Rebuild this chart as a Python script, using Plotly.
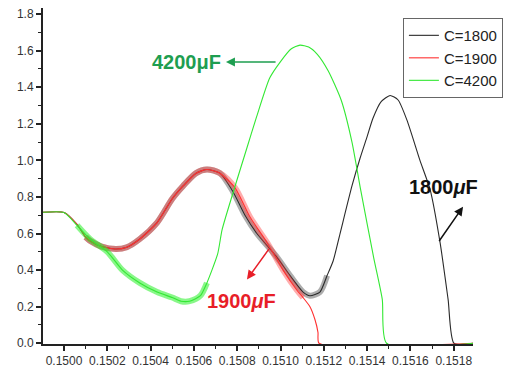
import plotly.graph_objects as go

# ---------------- data ----------------
black_x = [0.14989, 0.15000, 0.15006, 0.15010, 0.15012, 0.15017, 0.15024, 0.15029, 0.15035,
           0.15043, 0.15050, 0.15055, 0.15061, 0.15066, 0.15072, 0.15078, 0.150836, 0.150891,
           0.150984, 0.151044, 0.151104, 0.151136, 0.151182, 0.151215, 0.151243, 0.151275,
           0.151330, 0.151367, 0.151400, 0.151427, 0.151464, 0.151506, 0.151543, 0.151584,
           0.151644, 0.151691, 0.151737, 0.151774, 0.151801, 0.15189]
black_y = [0.715, 0.715, 0.65, 0.58, 0.56, 0.53, 0.515, 0.525, 0.57,
           0.66, 0.79, 0.86, 0.93, 0.95, 0.93, 0.83, 0.70, 0.60,
           0.47, 0.37, 0.28, 0.26, 0.28, 0.37, 0.45, 0.60,
           0.86, 1.01, 1.13, 1.23, 1.32, 1.355, 1.33, 1.22,
           1.00, 0.84, 0.55, 0.24, 0.0, 0.0]

red_x = [0.14989, 0.15000, 0.15006, 0.15010, 0.15012, 0.15017, 0.15024, 0.15029, 0.15035,
         0.15043, 0.15050, 0.15055, 0.15061, 0.15066, 0.15072, 0.15079, 0.150859, 0.150938,
         0.151012, 0.151076, 0.151104, 0.151136, 0.151159, 0.151173, 0.151178, 0.15189]
red_y = [0.715, 0.715, 0.65, 0.58, 0.56, 0.53, 0.515, 0.525, 0.57,
         0.66, 0.79, 0.86, 0.93, 0.95, 0.93, 0.85, 0.69, 0.55,
         0.40, 0.29, 0.25, 0.20, 0.13, 0.06, 0.0, 0.0]

green_x = [0.14989, 0.15000, 0.15006, 0.15012, 0.15020, 0.15027, 0.15035, 0.15043, 0.15050,
           0.15054, 0.15058, 0.15063, 0.15066, 0.15071, 0.15073, 0.15078, 0.15084, 0.15089,
           0.15095, 0.15100, 0.15105, 0.15109, 0.15113, 0.15117, 0.15122, 0.15128, 0.15133,
           0.15137, 0.15143, 0.15147, 0.15149, 0.15189]
green_y = [0.715, 0.715, 0.645, 0.57, 0.50, 0.40, 0.33, 0.28, 0.25,
           0.23, 0.23, 0.26, 0.33, 0.49, 0.62, 0.82, 1.05, 1.24,
           1.45, 1.54, 1.61, 1.63, 1.62, 1.58, 1.49, 1.33, 1.10,
           0.84, 0.47, 0.24, 0.0, 0.0]

# x-windows where the curves are a dense ripple band
black_noise = (0.15009, 0.15124)
red_noise = (0.15009, 0.15111)
green_noise = (0.15001, 0.15069)

series_names = ["C=1800", "C=1900", "C=4200"]

x_ticks = [0.1500, 0.1502, 0.1504, 0.1506, 0.1508, 0.1510, 0.1512, 0.1514, 0.1516, 0.1518]
x_ticklabels = ["0.1500", "0.1502", "0.1504", "0.1506", "0.1508", "0.1510", "0.1512",
                "0.1514", "0.1516", "0.1518"]
y_ticks = [0.0, 0.2, 0.4, 0.6, 0.8, 1.0, 1.2, 1.4, 1.6, 1.8]
y_ticklabels = ["0.0", "0.2", "0.4", "0.6", "0.8", "1.0", "1.2", "1.4", "1.6", "1.8"]

# ---------------- figure ----------------
fig = go.Figure()


def window(xs, ys, lo, hi):
    px, py = [], []
    for a, b in zip(xs, ys):
        if lo <= a <= hi:
            px.append(a)
            py.append(b)
    return px, py


specs = [
    (black_x, black_y, black_noise, "#2a2a2a", "rgba(50,50,50,0.40)", series_names[0]),
    (red_x, red_y, red_noise, "#ff3030", "rgba(255,50,50,0.40)", series_names[1]),
    (green_x, green_y, green_noise, "#33e833", "rgba(40,240,40,0.55)", series_names[2]),
]

for xs, ys, nw, col, bandcol, name in specs:
    bx, by = window(xs, ys, nw[0], nw[1])
    fig.add_trace(go.Scatter(x=bx, y=by, mode="lines", showlegend=False, hoverinfo="skip",
                             line=dict(color=bandcol, width=6, shape="spline", smoothing=0.8)))
    fig.add_trace(go.Scatter(x=xs, y=ys, mode="lines", name=name,
                             line=dict(color=col, width=1.1, shape="spline", smoothing=0.6)))

font_ax = dict(family="Arial, Liberation Sans", size=12, color="#333")

fig.update_layout(
    width=524, height=377,
    margin=dict(l=43, r=51, t=8, b=33),
    paper_bgcolor="white", plot_bgcolor="white",
    showlegend=True,
    legend=dict(x=0.837, y=0.97, xanchor="left", yanchor="top",
                bordercolor="#666", borderwidth=1, bgcolor="white",
                font=dict(family="Arial, Liberation Sans", size=15, color="#222"),
                itemwidth=30, tracegroupgap=0),
    xaxis=dict(range=[0.149903, 0.151889], tickmode="array", tickvals=x_ticks,
               ticktext=x_ticklabels, ticks="outside", ticklen=5, tickwidth=1.5,
               tickcolor="#222", showline=True, linecolor="#222", linewidth=2,
               showgrid=False, zeroline=False, tickfont=font_ax,
               minor=dict(ticks="outside", dtick=0.0001, tick0=0.15, ticklen=3,
                          tickwidth=1.2, tickcolor="#222")),
    yaxis=dict(range=[-0.004, 1.833], tickmode="array", tickvals=y_ticks,
               ticktext=y_ticklabels, ticks="outside", ticklen=5, tickwidth=1.5,
               tickcolor="#222", showline=True, linecolor="#222", linewidth=2,
               showgrid=False, zeroline=False, tickfont=font_ax,
               minor=dict(ticks="outside", dtick=0.1, tick0=0, ticklen=3,
                          tickwidth=1.2, tickcolor="#222")),
)

ann_font = "Arial, Liberation Sans"
# labels
fig.add_annotation(x=0.150568, y=1.538, xref="x", yref="y", showarrow=False,
                   text="<b>4200μF</b>", font=dict(family=ann_font, size=20, color="#1e9e50"))
fig.add_annotation(x=0.150822, y=0.229, xref="x", yref="y", showarrow=False,
                   text="<b>1900<i>μ</i>F</b>", font=dict(family=ann_font, size=20, color="#e81e28"))
fig.add_annotation(x=1.0163, y=0.467, xref="paper", yref="paper", showarrow=False,
                   text="<b>1800<i>μ</i>F</b>", font=dict(family=ann_font, size=20, color="#111"))
# arrows (head at label, tail at curve)
arrows = [
    (0.150748, 1.538, 0.150984, 1.538, "#1e9e50"),
    (0.150845, 0.349, 0.150952, 0.524, "#e81e28"),
    (0.151843, 0.747, 0.151728, 0.551, "#111"),
]
for hx, hy, tx, ty, c in arrows:
    fig.add_annotation(x=hx, y=hy, ax=tx, ay=ty, xref="x", yref="y", axref="x", ayref="y",
                       text="", showarrow=True, arrowhead=2, arrowsize=1.2, arrowwidth=1.5,
                       arrowcolor=c, standoff=0)

fig.write_html("out.html")
